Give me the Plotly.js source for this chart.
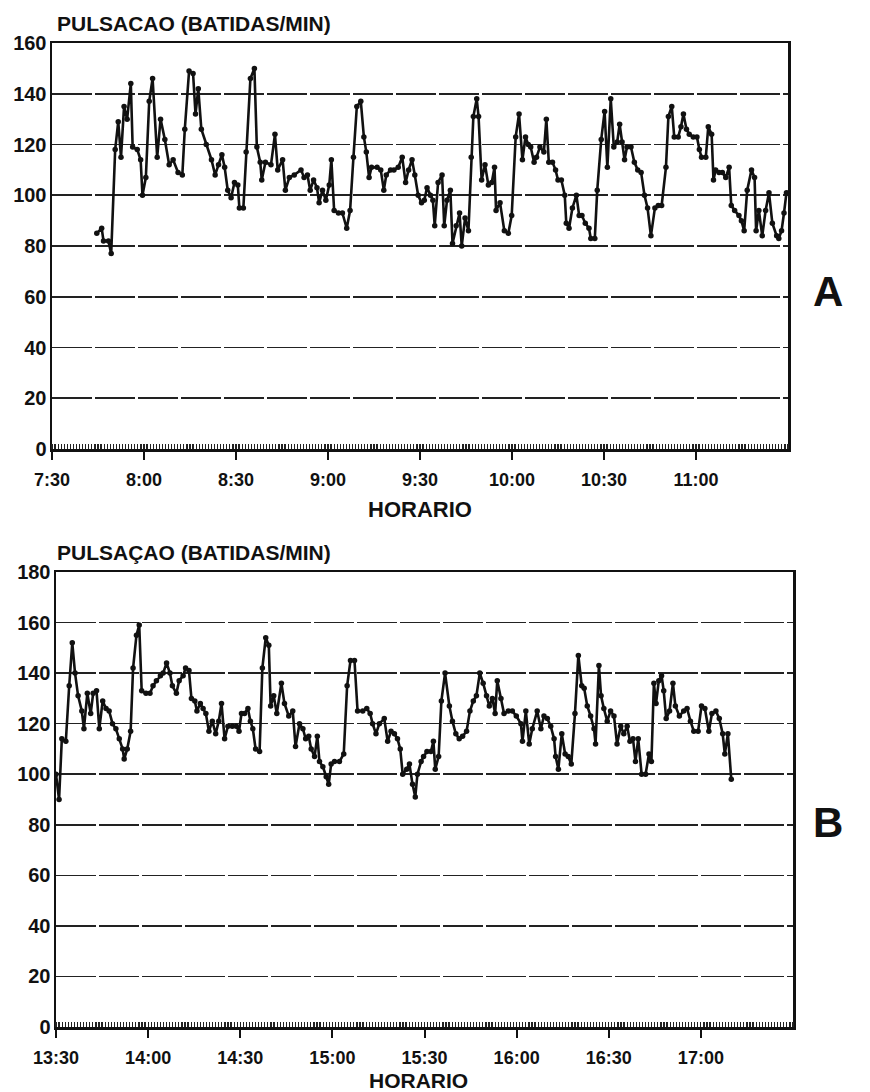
<!DOCTYPE html>
<html>
<head>
<meta charset="utf-8">
<script src="https://cdn.plot.ly/plotly-3.0.1.min.js"></script>
<style>html,body{margin:0;padding:0;background:#fff;}#chart{width:870px;height:1092px;}</style>
</head>
<body>
<div id="chart"></div>
<script>
// Chart A: minutes after 7:30 and pulse (beats/min)
const minutesA = [14.6,16.2,16.8,18.4,19.3,20.6,21.6,22.5,23.5,24.5,25.7,26.3,27.8,28.9,29.5,30.6,31.7,32.8,34.3,35.4,36.8,38.2,39.5,41.1,42.5,43.3,44.7,46.0,46.8,47.7,48.7,50.3,52.0,53.2,54.3,55.4,56.3,57.3,58.4,59.5,60.6,61.1,62.4,63.3,64.7,66.0,66.8,67.9,68.4,69.6,71.4,72.7,73.6,75.2,76.1,77.4,79.0,81.2,82.2,83.3,84.2,85.3,86.4,87.1,88.2,89.3,90.4,91.1,92.0,93.4,94.7,96.1,97.2,98.3,99.4,100.7,101.7,102.5,103.4,104.2,106.0,107.2,108.2,109.0,110.4,111.5,112.9,114.2,115.3,116.3,117.4,118.3,119.4,120.5,121.4,122.3,123.4,124.2,124.8,125.9,127.2,127.9,128.8,129.9,130.6,131.8,132.9,133.6,134.7,135.8,136.7,137.4,138.5,139.1,140.1,141.2,142.3,143.4,144.3,144.8,146.1,147.5,148.8,149.9,151.2,152.3,153.4,154.4,155.3,156.1,157.2,158.0,159.1,160.4,161.2,162.0,163.2,164.2,165.0,166.1,167.2,167.7,168.6,169.7,171.0,171.9,172.8,173.9,175.1,175.7,177.0,177.8,179.1,180.2,181.1,182.2,183.2,184.3,185.1,185.9,186.7,187.5,188.8,189.9,191.0,192.1,193.2,194.2,195.3,196.6,197.7,198.8,200.2,201.0,202.1,202.9,204.2,205.1,205.9,206.9,207.8,209.1,210.3,211.1,211.8,213.2,214.0,215.1,215.7,216.4,217.5,218.6,219.7,220.8,221.5,222.6,224.0,224.8,225.7,226.7,228.1,229.1,229.6,230.5,231.6,232.7,233.8,234.9,236.3,237.0,237.9,238.7,239.5];
const pulseA = [85,87,82,82,77,118,129,115,135,130,144,119,118,114,100,107,137,146,115,130,122,112,114,109,108,126,149,148,132,142,126,120,114,108,112,116,111,102,99,105,104,95,95,117,146,150,119,113,106,113,112,124,110,114,102,107,108,110,107,108,102,106,103,97,102,98,104,114,94,93,93,87,94,115,135,137,123,117,107,111,111,110,102,108,110,110,111,115,105,110,114,108,100,97,98,103,100,98,88,105,108,88,98,102,81,88,93,80,91,86,115,131,138,131,106,112,104,105,111,94,97,86,85,92,123,132,114,123,120,119,113,115,119,117,130,113,113,110,106,106,100,89,87,95,100,92,92,89,87,83,83,102,122,133,111,138,119,121,128,121,114,119,119,113,110,109,100,95,84,95,96,96,111,131,135,123,123,127,132,126,124,123,123,118,115,115,127,124,106,110,109,109,107,111,96,94,92,90,86,102,110,107,86,94,84,94,101,89,84,83,86,93,101];

// Chart B: minutes after 13:30 and pulse (beats/min)
const minutesB = [0.0,1.0,1.9,3.2,4.3,5.3,6.2,7.2,8.4,9.1,10.2,11.3,12.1,13.2,14.1,15.2,16.3,17.3,18.4,19.5,20.6,21.7,22.2,23.2,24.3,25.1,26.2,27.1,27.9,29.3,30.6,31.6,32.7,34.0,34.9,36.0,37.1,37.9,39.2,40.1,41.4,42.2,43.3,44.1,45.2,45.9,47.0,47.9,48.8,49.8,50.9,52.0,53.0,53.9,54.9,56.0,57.4,58.7,59.6,60.4,61.4,62.5,63.3,64.1,65.0,66.3,67.2,68.3,69.3,69.9,70.9,71.9,73.4,74.4,75.8,77.1,78.0,79.3,80.4,81.3,82.3,83.1,84.2,85.1,85.8,86.9,88.0,88.8,89.6,90.7,92.3,93.7,94.8,95.9,97.2,98.2,99.9,101.2,102.3,103.1,104.2,105.3,106.9,108.0,109.1,110.2,111.2,112.1,112.9,114.2,115.1,116.1,117.0,117.7,118.9,119.7,120.8,122.1,122.9,123.5,124.6,125.5,126.7,128.1,129.1,130.2,131.3,132.4,133.7,134.8,135.9,136.9,138.0,139.1,140.2,141.1,142.1,143.0,143.7,144.9,145.9,147.3,148.6,149.9,151.4,151.9,153.0,154.1,155.1,156.7,157.9,158.9,160.0,161.1,162.2,162.7,163.6,164.7,165.8,166.8,167.8,169.0,170.1,171.2,172.0,173.0,174.1,175.2,175.7,176.8,177.5,178.4,179.5,180.6,181.7,182.7,183.9,184.9,186.0,186.9,187.9,188.7,189.6,190.7,192.0,193.1,193.9,194.7,195.4,196.3,197.2,197.9,198.7,199.8,200.9,201.7,203.0,204.4,205.5,206.6,207.7,209.1,210.2,211.3,212.6,213.6,214.9,216.0,217.1,217.8,218.8,219.9];
const pulseB = [100,90,114,113,135,152,140,131,125,118,132,124,132,133,118,129,126,125,120,118,114,110,106,110,117,142,155,159,133,132,132,135,137,139,140,144,140,135,132,137,139,142,141,130,129,125,128,126,124,117,121,116,121,128,114,119,119,119,117,124,124,126,121,118,110,109,142,154,151,127,131,124,136,128,123,125,111,120,118,114,115,110,107,115,105,103,99,96,104,105,105,108,135,145,145,125,125,126,124,120,116,120,122,113,117,116,114,110,100,102,104,96,91,100,105,107,109,109,113,102,107,129,140,127,121,116,114,115,117,125,129,131,140,136,131,127,130,124,137,130,124,125,125,123,120,113,125,112,118,125,118,123,122,119,114,107,102,116,108,107,104,124,147,135,134,127,123,118,112,143,131,126,121,125,123,112,119,116,119,113,114,105,114,100,100,108,105,136,128,137,139,133,122,125,136,127,123,125,126,121,117,117,127,126,117,124,125,122,116,108,116,98];

// Axis tick labels
const tickMinutes = [0,30,60,90,120,150,180,210];
const ticksA = ["7:30","8:00","8:30","9:00","9:30","10:00","10:30","11:00"];
const ticksB = ["13:30","14:00","14:30","15:00","15:30","16:00","16:30","17:00"];
const yTicksA = [0,20,40,60,80,100,120,140,160];
const yTicksB = [0,20,40,60,80,100,120,140,160,180];
const yTitleA = "PULSACAO (BATIDAS/MIN)";
const yTitleB = "PULSAÇAO (BATIDAS/MIN)";
const xTitle = "HORARIO";

const FONT = "Liberation Sans, Arial, sans-serif";
const W = 870, H = 1092;
const px = v => v / W;
const py = v => 1 - v / H;
const bold = arr => arr.map(s => "<b>" + s + "</b>");

function trace(x, y, xa, ya) {
  return {
    x: x, y: y, xaxis: xa, yaxis: ya, type: "scatter", mode: "lines+markers",
    line: {color: "#111", width: 2.6},
    marker: {color: "#111", size: 5.5},
    hoverinfo: "skip", showlegend: false
  };
}

function xaxis(domain, ticktext, anchor) {
  return {
    domain: domain, anchor: anchor, range: [0, 240],
    tickmode: "array", tickvals: tickMinutes, ticktext: bold(ticktext),
    ticks: "outside", ticklen: 8, tickwidth: 2, tickcolor: "#111",
    ticklabelstandoff: 5,
    minor: {ticks: "inside", ticklen: 5, tickwidth: 1.2, tickcolor: "#222", dtick: 1, tick0: 0, showgrid: false},
    showline: true, linewidth: 2.5, linecolor: "#111", mirror: true,
    showgrid: false, zeroline: false,
    tickfont: {family: FONT, size: 18, color: "#111"}
  };
}
function yaxis(domain, ticks, anchor) {
  return {
    domain: domain, anchor: anchor, range: [0, ticks[ticks.length - 1]],
    tickmode: "array", tickvals: ticks, ticktext: bold(ticks.map(String)),
    ticks: "", showline: true, linewidth: 2.5, linecolor: "#111", mirror: true,
    showgrid: true, gridcolor: "#222", gridwidth: 1.6, griddash: "40px,3px",
    zeroline: false, ticklabelstandoff: -1,
    tickfont: {family: FONT, size: 20, color: "#111"}
  };
}

const data = [
  trace(minutesA, pulseA, "x", "y"),
  trace(minutesB, pulseB, "x2", "y2")
];

function label(text, x, y, size, anchor) {
  return {text: "<b>" + text + "</b>", xref: "paper", yref: "paper", x: px(x), y: py(y),
    xanchor: anchor, yanchor: "middle", showarrow: false, font: {family: FONT, size: size, color: "#111"}};
}

const layout = {
  width: W, height: H,
  margin: {l: 0, r: 0, t: 0, b: 0},
  paper_bgcolor: "#fff", plot_bgcolor: "#fff",
  xaxis: xaxis([px(52), px(788)], ticksA, "y"),
  yaxis: yaxis([py(449), py(43)], yTicksA, "x"),
  xaxis2: xaxis([px(56), px(793)], ticksB, "y2"),
  yaxis2: yaxis([py(1027), py(572)], yTicksB, "x2"),
  annotations: [
    label(yTitleA, 55, 23, 21, "left"),
    label(yTitleB, 55, 552, 21, "left"),
    label(xTitle, 420, 509, 22, "center"),
    label(xTitle, 418, 1080, 21, "center"),
    label("A", 828, 292, 42, "center"),
    label("B", 828, 822, 42, "center")
  ]
};

Plotly.newPlot("chart", data, layout, {staticPlot: true});
</script>
</body>
</html>
